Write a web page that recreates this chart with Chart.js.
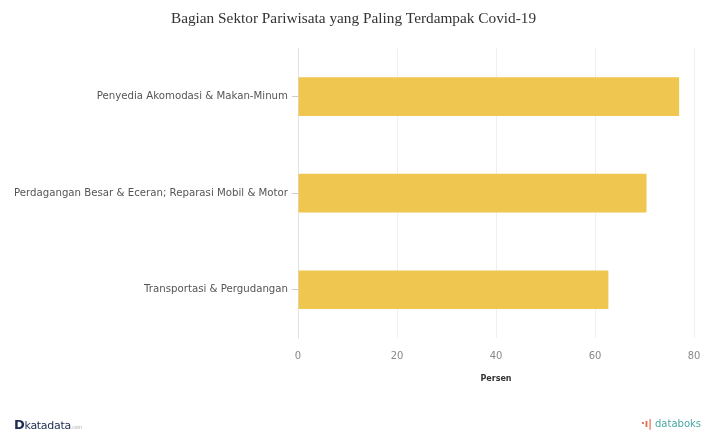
<!DOCTYPE html>
<html>
<head>
<meta charset="utf-8">
<script src="https://cdn.jsdelivr.net/npm/chart.js@4"></script>
<style>
  body { margin: 0; background: #fff; }
  #wrap { position: relative; width: 707px; height: 434px; }
  .brand { position: absolute; font-family: "DejaVu Sans", sans-serif; }
  #kata { left: 14px; top: 417px; font-size: 11px; color: #1d2b4f; letter-spacing: -0.3px; }
  #kata b { font-size: 13px; }
  #kata small { font-size: 5px; color: #aaa; }
  #boks { right: 6px; top: 418px; font-size: 10px; color: #4aa7a3; }
  #boks i { color: #e8684a; font-style: normal; font-weight: bold; }
</style>
</head>
<body>
<div id="wrap">
  <canvas id="chart" width="707" height="434"></canvas>
  <div class="brand" id="kata"><b>D</b>katadata<small>.com</small></div>
  <div class="brand" id="boks"><i>·ı|</i> databoks</div>
</div>
<script>
const categories = [
  "Penyedia Akomodasi & Makan-Minum",
  "Perdagangan Besar & Eceran; Reparasi Mobil & Motor",
  "Transportasi & Pergudangan"
];
const values = [77.0, 70.4, 62.7];
const xTicks = [0, 20, 40, 60, 80];

const ctx = document.getElementById("chart");
const chart = new Chart(ctx, {
  type: "bar",
  data: {
    labels: categories,
    datasets: [
      {
        data: values,
        backgroundColor: "#efc64f",
        borderWidth: 0,
        barPercentage: 0.4,
        categoryPercentage: 1,
      },
    ],
  },
  options: {
    indexAxis: "y",
    responsive: false,
    animation: false,
    layout: { padding: { left: 0, right: 0, top: 0, bottom: 46 } },
    plugins: {
      legend: { display: false },
      tooltip: { enabled: false },
      title: {
        display: true,
        text: "Bagian Sektor Pariwisata yang Paling Terdampak Covid-19",
        color: "#333",
        font: { family: "Liberation Serif", size: 15.3, weight: "normal" },
        padding: { top: 10, bottom: 20 },
      },
    },
    scales: {
      x: {
        min: 0,
        max: 80,
        afterBuildTicks: (scale) => {
          scale.ticks = xTicks.map((v) => ({ value: v }));
        },
        afterFit: (scale) => {
          scale.height = 50;
          scale.paddingLeft = 0;
          scale.paddingRight = 13;
        },
        grid: { color: "#efefef", tickLength: 0 },
        border: { display: false },
        ticks: {
          color: "#888",
          padding: 12,
          font: { family: "DejaVu Sans", size: 10 },
        },
        title: {
          display: true,
          text: "Persen",
          color: "#333",
          padding: { top: 6 },
          font: { family: "DejaVu Sans", size: 8, weight: "bold" },
        },
      },
      y: {
        afterFit: (scale) => {
          scale.width = 298;
        },
        grid: { drawOnChartArea: false, offset: false, color: "#ccc", tickLength: 6 },
        border: { color: "#e2e2e2" },
        ticks: {
          color: "#555",
          padding: 4,
          font: { family: "DejaVu Sans", size: 10.2 },
        },
      },
    },
  },
});
</script>
</body>
</html>
